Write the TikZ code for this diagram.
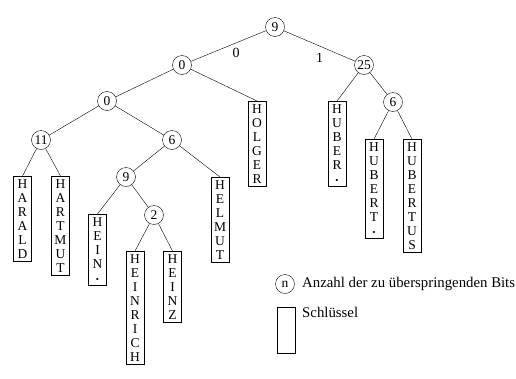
\documentclass[tikz,border=0pt]{standalone}
\usepackage{fontspec}
\setmainfont{Liberation Serif}
\usetikzlibrary{positioning}

\newcommand{\dotmark}{{\small\textbullet}}

\begin{document}
\begin{tikzpicture}[x=1pt,y=-1pt,
 bits/.style={draw,circle,inner sep=0pt,minimum size=19pt,font=\fontsize{13.5}{13.5}\selectfont},
 key/.style={draw,anchor=north,align=center,inner xsep=0pt,text width=18pt,inner ysep=3pt,font=\fontsize{13.5}{14}\selectfont},
 lab/.style={font=\fontsize{14}{14}\selectfont,inner sep=1pt},
 legtext/.style={anchor=west,font=\fontsize{14.8}{14.8}\selectfont,inner sep=0pt}]
 \useasboundingbox (0,0) rectangle (516,378);
 \node[bits] (r) at (275,27) {9};
 \node[bits] (a) at (182,65) {0};
 \node[bits] (b) at (364,65) {25};
 \node[bits] (aa) at (107,101) {0};
 \node[bits] (aaa) at (41,140) {11};
 \node[bits] (aab) at (172,140) {6};
 \node[bits] (aaba) at (126,177) {9};
 \node[bits] (aabab) at (154,215) {2};
 \node[bits] (bb) at (393,102) {6};
 \node[key] (harald) at (22.5,176) {H\\A\\R\\A\\L\\D};
 \node[key] (hartmut) at (60.5,176) {H\\A\\R\\T\\M\\U\\T};
 \node[key] (hein) at (97.5,214) {H\\E\\I\\N\\\dotmark};
 \node[key] (heinrich) at (135,251) {H\\E\\I\\N\\R\\I\\C\\H};
 \node[key] (heinz) at (172.5,251) {H\\E\\I\\N\\Z};
 \node[key] (helmut) at (220,177) {H\\E\\L\\M\\U\\T};
 \node[key] (holger) at (257,101) {H\\O\\L\\G\\E\\R};
 \node[key] (huber) at (337,101) {H\\U\\B\\E\\R\\\dotmark};
 \node[key] (hubert) at (374,139) {H\\U\\B\\E\\R\\T\\\dotmark};
 \node[key] (hubertus) at (412,139) {H\\U\\B\\E\\R\\T\\U\\S};
 \draw (r) -- node[lab,pos=.4,below=4pt] {0} (a);
 \draw (r) -- node[lab,midway,below=6pt] {1} (b);
 \draw (a) -- (aa);
 \draw (a) -- (holger.north);
 \draw (aa) -- (aaa);
 \draw (aa) -- (aab);
 \draw (aaa) -- (harald.north);
 \draw (aaa) -- (hartmut.north);
 \draw (aab) -- (aaba);
 \draw (aab) -- (helmut.north);
 \draw (aaba) -- (hein.north);
 \draw (aaba) -- (aabab);
 \draw (aabab) -- (heinrich.north);
 \draw (aabab) -- (heinz.north);
 \draw (b) -- (huber.north);
 \draw (b) -- (bb);
 \draw (bb) -- (hubert.north);
 \draw (bb) -- (hubertus.north);
 \node[bits] (legbits) at (285,284) {n};
 \node[legtext] (legbitstext) at (302,284) {Anzahl der zu überspringenden Bits};
 \node[draw,minimum width=18pt,minimum height=46pt,inner sep=0pt,anchor=north west] (legkey) at (277,307) {};
 \node[legtext] (legkeytext) at (302,312) {Schlüssel};
\end{tikzpicture}
\end{document}
